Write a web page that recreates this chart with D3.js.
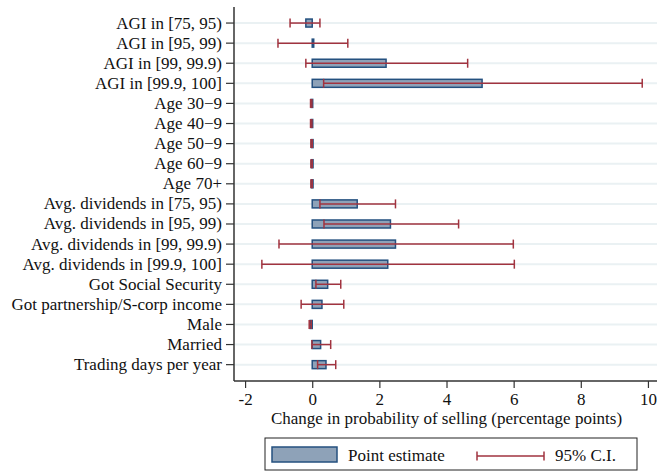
<!DOCTYPE html>
<html>
<head>
<meta charset="utf-8">
<script src="https://cdn.jsdelivr.net/npm/d3@7"></script>
<style>
  body { margin: 0; background: #fff; }
  text { font-family: "Liberation Serif", "Times New Roman", serif; fill: #111; }
</style>
</head>
<body>
<div id="chart"></div>
<script>
// row labels, top to bottom
const labels = [
    "AGI in [75, 95)", "AGI in [95, 99)", "AGI in [99, 99.9)", "AGI in [99.9, 100]",
    "Age 30\u22129", "Age 40\u22129", "Age 50\u22129", "Age 60\u22129", "Age 70+",
    "Avg. dividends in [75, 95)", "Avg. dividends in [95, 99)",
    "Avg. dividends in [99, 99.9)", "Avg. dividends in [99.9, 100]",
    "Got Social Security", "Got partnership/S-corp income", "Male", "Married",
    "Trading days per year"
];
// point estimates (pp)
const estimates = [-0.19, 0.01, 2.2, 5.06, -0.03, -0.03, -0.02, -0.02, -0.02,
    1.34, 2.33, 2.48, 2.25, 0.46, 0.29, -0.06, 0.25, 0.41];
// 95% CI bounds
const ciLow = [-0.66, -1.02, -0.19, 0.34, -0.05, -0.05, -0.04, -0.04, -0.04,
    0.23, 0.35, -0.99, -1.5, 0.11, -0.33, -0.09, -0.01, 0.16];
const ciHigh = [0.23, 1.06, 4.63, 9.83, -0.01, -0.01, 0.0, 0.0, 0.0,
    2.48, 4.36, 5.99, 6.02, 0.85, 0.94, -0.03, 0.55, 0.70];
const xTicks = [-2, 0, 2, 4, 6, 8, 10];

const data = labels.map((l, i) => ({label: l, est: estimates[i], lo: ciLow[i], hi: ciHigh[i]}));

const W = 657, H = 471;
const FS = 17;
const barFill = "#8ea2b8", barStroke = "#24507f", ciColor = "#a1333f";

const svg = d3.select("#chart").append("svg")
    .attr("width", W)
    .attr("height", H);

const x = d3.scaleLinear()
    .domain([-2.33, 10.27])
    .range([234, 657]);

const y = d3.scaleBand()
    .domain(labels)
    .range([13, 374.7])
    .paddingInner(0);

const yc = d => y(d) + y.bandwidth() / 2;

// light gridlines per row
svg.append("g")
    .selectAll("line")
    .data(labels)
    .join("line")
    .attr("x1", 234).attr("x2", W)
    .attr("y1", d => yc(d)).attr("y2", d => yc(d))
    .attr("stroke", "#eaf1f3")
    .attr("stroke-width", 2);

// bars from 0 to estimate
const barH = 8;
svg.append("g")
    .selectAll("rect")
    .data(data)
    .join("rect")
    .attr("x", d => Math.min(x(0), x(d.est)))
    .attr("y", d => yc(d.label) - barH / 2)
    .attr("width", d => Math.max(Math.abs(x(d.est) - x(0)), 1.5))
    .attr("height", barH)
    .attr("fill", barFill)
    .attr("stroke", barStroke)
    .attr("stroke-width", 1.5);

// confidence intervals
const ci = svg.append("g")
    .attr("stroke", ciColor)
    .attr("stroke-width", 1.5);
const capH = 9;
ci.selectAll(".ci-line")
    .data(data)
    .join("line")
    .attr("class", "ci-line")
    .attr("x1", d => x(d.lo)).attr("x2", d => x(d.hi))
    .attr("y1", d => yc(d.label)).attr("y2", d => yc(d.label));
ci.selectAll(".cap-lo")
    .data(data)
    .join("line")
    .attr("class", "cap-lo")
    .attr("x1", d => x(d.lo)).attr("x2", d => x(d.lo))
    .attr("y1", d => yc(d.label) - capH / 2).attr("y2", d => yc(d.label) + capH / 2);
ci.selectAll(".cap-hi")
    .data(data)
    .join("line")
    .attr("class", "cap-hi")
    .attr("x1", d => x(d.hi)).attr("x2", d => x(d.hi))
    .attr("y1", d => yc(d.label) - capH / 2).attr("y2", d => yc(d.label) + capH / 2);

// y axis
const yAxis = svg.append("g")
    .attr("transform", "translate(234,0)")
    .call(d3.axisLeft(y).tickSize(8).tickPadding(4));
yAxis.select(".domain").attr("d", "M0,7V381").attr("stroke", "#333").attr("stroke-width", 1.5);
yAxis.selectAll(".tick line").attr("stroke", "#333").attr("stroke-width", 1.2);
yAxis.selectAll(".tick text").attr("font-size", FS).attr("fill", "#111");

// x axis
const xAxis = svg.append("g")
    .attr("transform", "translate(0,381)")
    .call(d3.axisBottom(x).tickValues(xTicks).tickSize(7).tickPadding(5).tickFormat(d => String(d)));
xAxis.select(".domain").attr("d", "M234,0H657").attr("stroke", "#333").attr("stroke-width", 1.5);
xAxis.selectAll(".tick line").attr("stroke", "#333").attr("stroke-width", 1.2);
xAxis.selectAll(".tick text").attr("font-size", FS).attr("fill", "#111");

svg.append("text")
    .attr("x", x(4))
    .attr("y", 424)
    .attr("text-anchor", "middle")
    .attr("font-size", FS)
    .text("Change in probability of selling (percentage points)");

// legend
const lg = svg.append("g");
lg.append("rect")
    .attr("x", 265).attr("y", 438).attr("width", 372).attr("height", 32)
    .attr("fill", "#fff").attr("stroke", "#222").attr("stroke-width", 1);
lg.append("rect")
    .attr("x", 272).attr("y", 447).attr("width", 65).attr("height", 15)
    .attr("fill", barFill).attr("stroke", barStroke).attr("stroke-width", 1.5);
lg.append("text").attr("x", 348).attr("y", 461).attr("font-size", FS).text("Point estimate");
lg.append("line").attr("x1", 477).attr("x2", 544).attr("y1", 456).attr("y2", 456)
    .attr("stroke", ciColor).attr("stroke-width", 1.5);
[477, 544].forEach(cx => lg.append("line")
    .attr("x1", cx).attr("x2", cx).attr("y1", 451.5).attr("y2", 460.5)
    .attr("stroke", ciColor).attr("stroke-width", 1.5));
lg.append("text").attr("x", 555).attr("y", 461).attr("font-size", FS).text("95% C.I.");
</script>
</body>
</html>
